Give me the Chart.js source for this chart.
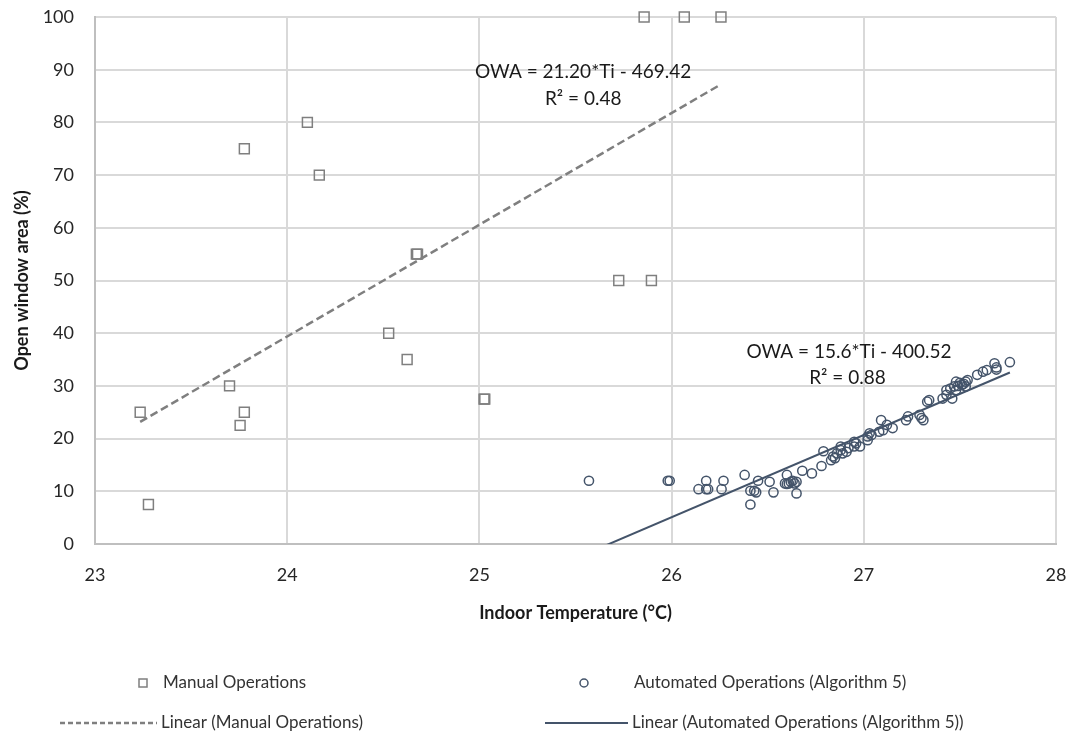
<!DOCTYPE html>
<html>
<head>
<meta charset="utf-8">
<script src="https://cdn.jsdelivr.net/npm/chart.js@4.4.1/dist/chart.umd.min.js"></script>
<style>
  html, body { margin: 0; padding: 0; background: #fff; }
</style>
</head>
<body>
<canvas id="owaChart" width="1073" height="742"></canvas>
<script>
// Manual operations (squares)
const manualTemp = [23.235, 23.278, 23.70, 23.777, 23.755, 23.777, 24.105, 24.167, 24.672, 24.678,
  24.528, 24.624, 25.024, 25.028, 25.725, 25.895, 25.857, 26.066, 26.257];
const manualOwa = [25, 7.5, 30, 25, 22.5, 75, 80, 70, 55, 55,
  40, 35, 27.5, 27.5, 50, 50, 100, 100, 100];

// Automated operations, algorithm 5 (circles)
const autoTemp = [25.57, 25.98, 25.99, 26.14, 26.18, 26.18, 26.19, 26.26, 26.27, 26.38,
  26.41, 26.41, 26.43, 26.44, 26.45, 26.51, 26.53, 26.59, 26.60, 26.60,
  26.61, 26.62, 26.64, 26.65, 26.65, 26.63, 26.68, 26.73, 26.78, 26.79,
  26.83, 26.84, 26.85, 26.86, 26.88, 26.88, 26.89, 26.91, 26.92, 26.95,
  26.95, 26.96, 26.98, 27.02, 27.02, 27.04, 27.03, 27.08, 27.09, 27.10,
  27.12, 27.15, 27.22, 27.23, 27.29, 27.30, 27.31, 27.33, 27.34, 27.41,
  27.43, 27.43, 27.45, 27.46, 27.47, 27.48, 27.48, 27.49, 27.50, 27.51,
  27.52, 27.53, 27.53, 27.54, 27.59, 27.62, 27.64, 27.68, 27.69, 27.69, 27.76];
const autoOwa = [12.0, 12.0, 12.0, 10.4, 12.0, 10.4, 10.4, 10.4, 12.0, 13.1,
  7.5, 10.1, 10.1, 9.8, 12.0, 11.8, 9.8, 11.5, 13.1, 11.4,
  11.5, 11.8, 11.5, 11.8, 9.6, 12.0, 13.9, 13.4, 14.8, 17.6,
  15.9, 16.6, 16.3, 17.2, 18.5, 17.8, 17.2, 17.5, 18.2, 19.4,
  18.5, 19.1, 18.5, 19.7, 20.4, 20.7, 21.0, 21.3, 23.5, 21.6,
  22.6, 22.0, 23.5, 24.2, 24.5, 23.9, 23.5, 27.0, 27.3, 27.6,
  28.3, 29.2, 29.5, 27.6, 29.9, 30.8, 29.2, 30.0, 30.6, 30.2,
  30.4, 29.9, 30.8, 31.1, 32.1, 32.7, 33.0, 34.3, 33.5, 33.1, 34.5];

// trend line equations as printed on the chart
const manualSlope = 21.20, manualIntercept = -469.42;
const autoSlope = 15.6, autoIntercept = -400.52;

const xTicks = [23, 24, 25, 26, 27, 28];
const yTicks = [0, 10, 20, 30, 40, 50, 60, 70, 80, 90, 100];

const FONT = 'Lato, "Open Sans", sans-serif';
const GREY = '#7f7f7f';
const NAVY = '#44546a';

const toPoints = (xs, ys) => xs.map((v, i) => ({ x: v, y: ys[i] }));
const trend = (xs, m, b) => {
  const lo = Math.min(...xs), hi = Math.max(...xs);
  return [{ x: lo, y: m * lo + b }, { x: hi, y: m * hi + b }];
};

// equations + custom legend drawn on the canvas
const extras = {
  id: 'extras',
  afterDraw(chart) {
    const { ctx, scales: { x, y } } = chart;
    ctx.save();
    ctx.fillStyle = '#1a1a1a';
    ctx.font = '19px ' + FONT;
    ctx.textAlign = 'center';
    ctx.textBaseline = 'middle';
    ctx.fillText('OWA = 21.20*Ti - 469.42', x.getPixelForValue(25.54), y.getPixelForValue(89.5));
    ctx.fillText('R² = 0.48', x.getPixelForValue(25.54), y.getPixelForValue(84.5));
    ctx.fillText('OWA = 15.6*Ti - 400.52', x.getPixelForValue(26.923), y.getPixelForValue(36.4));
    ctx.fillText('R² = 0.88', x.getPixelForValue(26.915), y.getPixelForValue(31.5));

    // legend
    ctx.font = '17px ' + FONT;
    ctx.textAlign = 'left';
    ctx.fillStyle = '#333';
    const r1 = 683, r2 = 723;
    ctx.lineWidth = 1.5;
    ctx.strokeStyle = GREY;
    ctx.strokeRect(139, r1 - 4, 8, 8);
    ctx.fillText('Manual Operations', 163, r1);
    ctx.strokeStyle = NAVY;
    ctx.beginPath();
    ctx.arc(584, r1, 4, 0, Math.PI * 2);
    ctx.stroke();
    ctx.fillText('Automated Operations (Algorithm 5)', 634, r1);

    ctx.lineWidth = 2.5;
    ctx.strokeStyle = GREY;
    ctx.setLineDash([5, 3]);
    ctx.beginPath();
    ctx.moveTo(60, r2); ctx.lineTo(157, r2);
    ctx.stroke();
    ctx.setLineDash([]);
    ctx.fillText('Linear (Manual Operations)', 161, r2);
    ctx.lineWidth = 2;
    ctx.strokeStyle = NAVY;
    ctx.beginPath();
    ctx.moveTo(545, r2); ctx.lineTo(628, r2);
    ctx.stroke();
    ctx.fillText('Linear (Automated Operations (Algorithm 5))', 632, r2);
    ctx.restore();
  }
};

new Chart(document.getElementById('owaChart'), {
  type: 'scatter',
  data: {
    datasets: [
      {
        label: 'Linear (Manual Operations)',
        data: trend(manualTemp, manualSlope, manualIntercept),
        showLine: true,
        borderColor: GREY,
        borderWidth: 2.5,
        borderDash: [8, 4],
        pointRadius: 0
      },
      {
        label: 'Linear (Automated Operations (Algorithm 5))',
        data: trend(autoTemp, autoSlope, autoIntercept),
        showLine: true,
        borderColor: NAVY,
        borderWidth: 2,
        pointRadius: 0
      },
      {
        label: 'Manual Operations',
        data: toPoints(manualTemp, manualOwa),
        clip: false,
        pointStyle: 'rect',
        pointRadius: 7,
        borderColor: GREY,
        borderWidth: 1.5,
        backgroundColor: 'rgba(255,255,255,0)'
      },
      {
        label: 'Automated Operations (Algorithm 5)',
        data: toPoints(autoTemp, autoOwa),
        clip: false,
        pointStyle: 'circle',
        pointRadius: 4.6,
        borderColor: NAVY,
        borderWidth: 1.5,
        backgroundColor: 'rgba(255,255,255,0)'
      }
    ]
  },
  options: {
    responsive: false,
    animation: false,
    devicePixelRatio: 1,
    layout: { padding: { left: 0, top: 17, right: 17, bottom: 110 } },
    plugins: {
      legend: { display: false },
      tooltip: { enabled: false }
    },
    scales: {
      x: {
        type: 'linear',
        min: 23, max: 28,
        afterBuildTicks: s => { s.ticks = xTicks.map(v => ({ value: v })); },
        afterFit: s => { s.height = 88; s.paddingLeft = 0; s.paddingRight = 0; },
        grid: { color: '#d9d9d9', lineWidth: 2, drawTicks: false },
        border: { color: '#bfbfbf', width: 2 },
        ticks: { color: '#262626', font: { family: FONT, size: 18 }, padding: 20 },
        title: {
          display: true,
          text: 'Indoor Temperature (°C)',
          color: '#1a1a1a',
          font: { family: FONT, size: 18, weight: 'bold' },
          padding: { top: 0, bottom: 8 }
        }
      },
      y: {
        min: 0, max: 100,
        afterBuildTicks: s => { s.ticks = yTicks.map(v => ({ value: v })); },
        afterFit: s => { s.width = 95; s.paddingTop = 0; s.paddingBottom = 0; },
        grid: { color: '#d9d9d9', lineWidth: 2, drawTicks: false },
        border: { color: '#bfbfbf', width: 2 },
        ticks: { color: '#262626', font: { family: FONT, size: 18 }, padding: 21 },
        title: {
          display: true,
          text: 'Open window area (%)',
          color: '#1a1a1a',
          font: { family: FONT, size: 18, weight: 'bold' },
          padding: { top: 11, bottom: 0 }
        }
      }
    }
  },
  plugins: [extras]
});
</script>
</body>
</html>
